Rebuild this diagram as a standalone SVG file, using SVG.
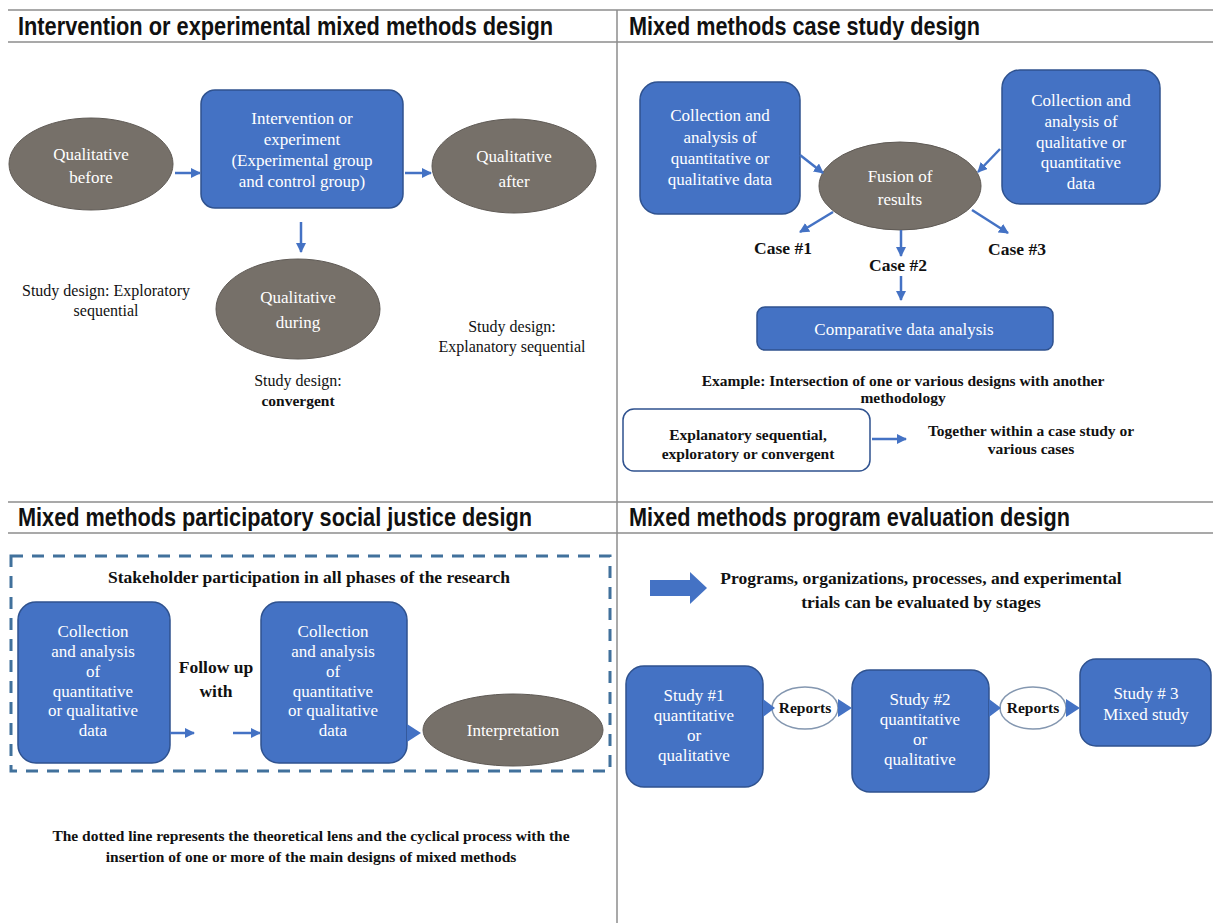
<svg xmlns="http://www.w3.org/2000/svg" width="1213" height="923" viewBox="0 0 1213 923">
<defs>
<style>
.title{font-family:"Liberation Sans Narrow","Liberation Sans",Arial,sans-serif;font-weight:bold;font-size:25px;fill:#111}
.rule{stroke:#8c8c8c;stroke-width:1.5;fill:none}
.box{fill:#4472C4;stroke:#2F528F;stroke-width:1.5}
.oval{fill:#767069;stroke:#5f5a55;stroke-width:1}
.wt{font-family:"Liberation Serif","Times New Roman",serif;font-size:17px;fill:#fff;text-anchor:middle}
.bt{font-family:"Liberation Serif","Times New Roman",serif;font-size:16px;fill:#111;text-anchor:middle}
.bb{font-family:"Liberation Serif","Times New Roman",serif;font-size:15.5px;font-weight:bold;fill:#111;text-anchor:middle}
.lg{font-size:17.5px}
.con{stroke:#4472C4;stroke-width:2.5;fill:none;marker-end:url(#ah)}
.tri{fill:#4472C4}
</style>
<marker id="ah" viewBox="0 0 10 10" refX="9" refY="5" markerWidth="10" markerHeight="10" markerUnits="userSpaceOnUse" orient="auto">
<path d="M0,0 L10,5 L0,10 z" fill="#4472C4"/>
</marker>
</defs>
<rect width="1213" height="923" fill="#fff"/>

<g id="grid">
<line class="rule" x1="8" y1="10" x2="1213" y2="10"/>
<line class="rule" x1="8" y1="42" x2="1213" y2="42"/>
<line class="rule" x1="8" y1="502" x2="1213" y2="502"/>
<line class="rule" x1="8" y1="533" x2="1213" y2="533"/>
<line class="rule" x1="617" y1="10" x2="617" y2="923"/>
</g>

<g id="titles">
<text class="title" x="18" y="35" textLength="535" lengthAdjust="spacingAndGlyphs">Intervention or experimental mixed methods design</text>
<text class="title" x="629" y="35" textLength="351" lengthAdjust="spacingAndGlyphs">Mixed methods case study design</text>
<text class="title" x="18" y="526" textLength="514" lengthAdjust="spacingAndGlyphs">Mixed methods participatory social justice design</text>
<text class="title" x="629" y="526" textLength="441" lengthAdjust="spacingAndGlyphs">Mixed methods program evaluation design</text>
</g>

<!-- ========== Top-left ========== -->
<g id="q-before">
<ellipse class="oval" cx="91" cy="164" rx="82" ry="46"/>
<text class="wt" x="91" y="160" font-size="18">Qualitative</text>
<text class="wt" x="91" y="183" font-size="18">before</text>
</g>
<g id="intervention">
<rect class="box" x="201" y="90" width="202" height="118" rx="14"/>
<text class="wt" x="302" y="124">Intervention or</text>
<text class="wt" x="302" y="145">experiment</text>
<text class="wt" x="302" y="166">(Experimental group</text>
<text class="wt" x="302" y="187">and control group)</text>
</g>
<g id="q-after">
<ellipse class="oval" cx="514" cy="166" rx="82" ry="47"/>
<text class="wt" x="514" y="162" font-size="18">Qualitative</text>
<text class="wt" x="514" y="187" font-size="18">after</text>
</g>
<g id="q-during">
<ellipse class="oval" cx="298" cy="309" rx="82" ry="50"/>
<text class="wt" x="298" y="303" font-size="18">Qualitative</text>
<text class="wt" x="298" y="328" font-size="18">during</text>
</g>
<g id="cap-exploratory">
<text class="bt" x="106" y="296">Study design: Exploratory</text>
<text class="bt" x="106" y="316">sequential</text>
</g>
<g id="cap-explanatory">
<text class="bt" x="512" y="332">Study design:</text>
<text class="bt" x="512" y="352">Explanatory sequential</text>
</g>
<g id="cap-convergent">
<text class="bt" x="298" y="386">Study design:</text>
<text class="bb" x="298" y="406">convergent</text>
</g>

<!-- ========== Top-right ========== -->
<g id="cs-left">
<rect class="box" x="640" y="82" width="160" height="132" rx="18"/>
<text class="wt" x="720" y="121" font-size="17.5">Collection and</text>
<text class="wt" x="720" y="143" font-size="17.5">analysis of</text>
<text class="wt" x="720" y="164" font-size="17.5">quantitative or</text>
<text class="wt" x="720" y="185" font-size="17.5">qualitative data</text>
</g>
<g id="cs-right">
<rect class="box" x="1002" y="70" width="158" height="134" rx="18"/>
<text class="wt" x="1081" y="106" font-size="17.5">Collection and</text>
<text class="wt" x="1081" y="127" font-size="17.5">analysis of</text>
<text class="wt" x="1081" y="148" font-size="17.5">qualitative or</text>
<text class="wt" x="1081" y="168" font-size="17.5">quantitative</text>
<text class="wt" x="1081" y="189" font-size="17.5">data</text>
</g>
<g id="fusion">
<ellipse class="oval" cx="900" cy="186" rx="81" ry="44"/>
<text class="wt" x="900" y="182" font-size="18">Fusion of</text>
<text class="wt" x="900" y="205" font-size="18">results</text>
</g>
<g id="cases">
<text class="bb lg" x="783" y="254">Case #1</text>
<text class="bb lg" x="898" y="271">Case #2</text>
<text class="bb lg" x="1017" y="255">Case #3</text>
</g>
<g id="comparative">
<rect class="box" x="757" y="307" width="296" height="43" rx="8"/>
<text class="wt" x="904" y="335" font-size="17.5">Comparative data analysis</text>
</g>
<g id="example">
<text class="bb" x="903" y="386">Example: Intersection of one or various designs with another</text>
<text class="bb" x="903" y="403">methodology</text>
</g>
<g id="designs-box">
<rect x="623" y="409" width="247" height="62" rx="11" fill="#fff" stroke="#2F528F" stroke-width="1.5"/>
<text class="bb" x="748" y="440">Explanatory sequential,</text>
<text class="bb" x="748" y="459">exploratory or convergent</text>
</g>
<g id="together">
<text class="bb" x="1031" y="436" font-size="16.5">Together within a case study or</text>
<text class="bb" x="1031" y="454" font-size="16.5">various cases</text>
</g>

<!-- ========== Bottom-left ========== -->
<g id="lens">
<rect x="11" y="556" width="599" height="215" fill="none" stroke="#41719C" stroke-width="3" stroke-dasharray="12,9"/>
<text class="bb lg" x="309" y="583">Stakeholder participation in all phases of the research</text>
</g>
<g id="pj-left">
<rect class="box" x="18" y="602" width="152" height="161" rx="18"/>
<text class="wt" x="93" y="637">Collection</text>
<text class="wt" x="93" y="657">and analysis</text>
<text class="wt" x="93" y="677">of</text>
<text class="wt" x="93" y="697">quantitative</text>
<text class="wt" x="93" y="716">or qualitative</text>
<text class="wt" x="93" y="736">data</text>
</g>
<g id="followup">
<text class="bb lg" x="216" y="673">Follow up</text>
<text class="bb lg" x="216" y="697">with</text>
</g>
<g id="pj-mid">
<rect class="box" x="261" y="602" width="146" height="161" rx="18"/>
<text class="wt" x="333" y="637">Collection</text>
<text class="wt" x="333" y="657">and analysis</text>
<text class="wt" x="333" y="677">of</text>
<text class="wt" x="333" y="697">quantitative</text>
<text class="wt" x="333" y="716">or qualitative</text>
<text class="wt" x="333" y="736">data</text>
</g>
<g id="interpretation">
<ellipse class="oval" cx="513" cy="730" rx="90" ry="36"/>
<text class="wt" x="513" y="736" font-size="18">Interpretation</text>
</g>
<g id="lens-note">
<text class="bb" x="311" y="841">The dotted line represents the theoretical lens and the cyclical process with the</text>
<text class="bb" x="311" y="862">insertion of one or more of the main designs of mixed methods</text>
</g>

<!-- ========== Bottom-right ========== -->
<g id="eval-arrow">
<polygon class="tri" points="650,580 690,580 690,572 707,588 690,604 690,596 650,596"/>
<text class="bb lg" x="921" y="584">Programs, organizations, processes, and experimental</text>
<text class="bb lg" x="921" y="608">trials can be evaluated by stages</text>
</g>
<g id="study1">
<rect class="box" x="626" y="666" width="137" height="121" rx="18"/>
<text class="wt" x="694" y="701" font-size="18">Study #1</text>
<text class="wt" x="694" y="721" font-size="18">quantitative</text>
<text class="wt" x="694" y="741" font-size="18">or</text>
<text class="wt" x="694" y="761" font-size="18">qualitative</text>
</g>
<g id="reports1">
<ellipse cx="805" cy="708" rx="33" ry="21" fill="#fff" stroke="#8497B0" stroke-width="1.5"/>
<text class="bb" x="805" y="713" font-size="15">Reports</text>
</g>
<g id="study2">
<rect class="box" x="852" y="670" width="137" height="122" rx="18"/>
<text class="wt" x="920" y="705" font-size="18">Study #2</text>
<text class="wt" x="920" y="725" font-size="18">quantitative</text>
<text class="wt" x="920" y="745" font-size="18">or</text>
<text class="wt" x="920" y="765" font-size="18">qualitative</text>
</g>
<g id="reports2">
<ellipse cx="1033" cy="708" rx="33" ry="21" fill="#fff" stroke="#8497B0" stroke-width="1.5"/>
<text class="bb" x="1033" y="713" font-size="15">Reports</text>
</g>
<g id="study3">
<rect class="box" x="1080" y="659" width="131" height="87" rx="16"/>
<text class="wt" x="1146" y="699" font-size="18">Study # 3</text>
<text class="wt" x="1146" y="720" font-size="18">Mixed study</text>
</g>

<!-- ========== Connectors ========== -->
<g id="connectors">
<line class="con" x1="175" y1="173" x2="200" y2="173"/>
<line class="con" x1="405" y1="173" x2="431" y2="173"/>
<line class="con" x1="301" y1="222" x2="301" y2="252"/>
<line class="con" x1="800" y1="155" x2="823" y2="173"/>
<line class="con" x1="1000" y1="149" x2="978" y2="172"/>
<line class="con" x1="833" y1="212" x2="800" y2="232"/>
<line class="con" x1="972" y1="210" x2="1008" y2="233"/>
<line class="con" x1="901" y1="230" x2="901" y2="256"/>
<line class="con" x1="901" y1="276" x2="901" y2="300"/>
<line class="con" x1="872" y1="439" x2="906" y2="439"/>
<line class="con" x1="170" y1="733" x2="194" y2="733"/>
<line class="con" x1="233" y1="733" x2="260" y2="733"/>
<polygon class="tri" points="407,724 421,733 407,742"/>
<polygon class="tri" points="763,699 775,708 763,717"/>
<polygon class="tri" points="838,699 852,708 838,717"/>
<polygon class="tri" points="989,699 1001,708 989,717"/>
<polygon class="tri" points="1066,699 1080,708 1066,717"/>
</g>
</svg>
